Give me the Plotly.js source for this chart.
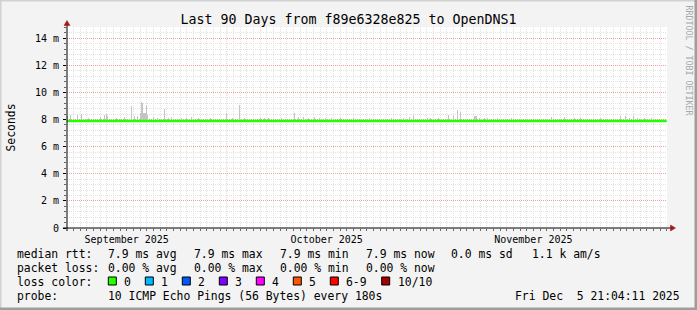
<!DOCTYPE html>
<html><head><meta charset="utf-8">
<script src="https://cdn.plot.ly/plotly-3.0.1.min.js"></script>
<style>html,body{margin:0;padding:0;background:#f3f3f3}</style>
</head><body><div id="chart" style="width:697px;height:310px"></div>
<script>
// ---------------- data ----------------
const rangeStart = '2025-09-07 01:00';
const rangeEnd = '2025-12-06 01:00';
const medianDates = ['2025-09-07 01:00', '2025-12-06 00:00'];
const medianRtt = [7.9, 7.9]; // ms
const smokeDates = [
 '2025-09-07 01:00','2025-09-07 15:00','2025-09-08 16:20','2025-09-09 06:40','2025-09-10 07:50',
 '2025-09-12 03:00','2025-09-12 17:30','2025-09-12 22:50','2025-09-13 04:20','2025-09-14 12:40',
 '2025-09-15 17:30','2025-09-16 18:40','2025-09-17 05:30','2025-09-17 16:20','2025-09-18 03:00',
 '2025-09-18 06:40','2025-09-18 10:20','2025-09-18 13:50','2025-09-18 17:30','2025-09-18 21:00',
 '2025-09-19 00:40','2025-09-19 04:20','2025-09-20 02:00','2025-09-20 16:20','2025-09-21 17:30',
 '2025-09-22 07:50','2025-09-22 18:40','2025-09-24 06:40','2025-09-25 00:40','2025-09-25 18:40',
 '2025-09-26 20:00','2025-09-28 15:00','2025-10-01 00:40','2025-10-01 22:20','2025-10-02 23:30',
 '2025-10-03 17:30','2025-10-06 03:00','2025-10-06 17:30','2025-10-07 07:50','2025-10-09 06:40',
 '2025-10-11 05:30','2025-10-11 20:00','2025-10-12 13:50','2025-10-13 07:50','2025-10-14 05:30',
 '2025-10-14 23:30','2025-10-15 21:00','2025-10-16 18:40','2025-10-18 03:00','2025-10-20 02:00',
 '2025-10-22 11:30','2025-10-25 18:40','2025-10-27 13:50','2025-10-28 11:30','2025-10-29 01:50',
 '2025-10-31 04:20','2025-10-31 15:00','2025-11-01 19:50','2025-11-03 07:50','2025-11-04 01:50',
 '2025-11-04 16:20','2025-11-05 03:00','2025-11-07 05:30','2025-11-07 09:00','2025-11-07 12:40',
 '2025-11-07 23:30','2025-11-08 17:30','2025-11-09 04:20','2025-11-10 16:20','2025-11-12 18:40',
 '2025-11-18 18:40','2025-11-20 17:30','2025-11-22 05:30','2025-11-23 03:00','2025-11-26 03:00',
 '2025-11-29 03:00','2025-11-29 21:00','2025-11-30 11:30','2025-12-01 01:50','2025-12-01 16:20',
 '2025-12-02 17:30','2025-12-03 18:40'
];
const smokeTop = [
 8.28,8.33,8.33,8.38,8.15,
 8.20,8.35,8.40,8.30,8.15,
 8.20,9.00,8.30,8.25,8.45,
 9.30,9.20,8.50,8.50,8.45,
 9.05,8.35,8.20,8.15,8.80,
 8.15,8.20,8.15,8.10,8.20,
 8.10,8.15,8.45,8.15,9.10,
 8.15,8.15,8.12,8.15,8.12,
 8.45,8.18,8.18,8.15,8.20,
 8.15,8.15,8.12,8.12,8.15,
 8.12,8.10,8.15,8.20,8.25,
 8.15,8.15,8.12,8.35,8.30,
 8.70,8.55,8.25,8.30,8.25,
 8.15,8.15,8.15,8.10,8.10,
 8.20,8.20,8.10,8.15,8.10,
 8.25,8.25,8.15,8.25,8.15,
 8.15,8.12
];
const monthStarts = ['2025-10-01','2025-11-01','2025-12-01'];
const monthLabelDates = ['2025-09-16','2025-10-16','2025-11-16'];
const monthLabels = ['September 2025','October 2025','November 2025'];
const yTickVals = [0,2,4,6,8,10,12,14];
const yTickText = ['0','2 m','4 m','6 m','8 m','10 m','12 m','14 m'];
const statsRtt = ['7.9 ms avg','7.9 ms max','7.9 ms min','7.9 ms now','0.0 ms sd','1.1 k am/s'];
const statsLoss = ['0.00 % avg','0.00 % max','0.00 % min','0.00 % now'];
const lossLabels = ['0','1','2','3','4','5','6-9','10/10'];
const lossColors = ['#26ff00','#00b8ff','#0059ff','#7e00ff','#ff00ff','#ff5500','#ff0000','#a00000'];
const probeText = '10 ICMP Echo Pings (56 Bytes) every 180s';
const stampText = 'Fri Dec\u00a0\u00a05 21:04:11 2025';

// ---------------- layout helpers ----------------
const MONO = 'DejaVu Sans Mono, monospace';
const L = 67, T = 27, W = 600, H = 201;
const px = x => (x - L) / W;
const py = y => (T + H - y) / H;
const SMOKE_BASE = 7.8;
const STEP_MS = 3.6 * 3600 * 1000;

function txt(x, y, s, extra) {
  return Object.assign({xref:'paper', yref:'paper', x:px(x), y:py(y), xanchor:'left', yanchor:'middle',
    text:s, showarrow:false, borderpad:0, font:{family:MONO, size:11.4, color:'#000'}}, extra || {});
}

const traces = [
  {type:'bar', x:smokeDates, y:smokeTop.map(v => v - SMOKE_BASE), base:SMOKE_BASE,
   width:STEP_MS, marker:{color:'#c4c4c4', line:{width:0}}, hoverinfo:'skip'},
  {type:'scatter', mode:'lines', x:medianDates, y:medianRtt,
   line:{color:'#22ff00', width:2.6}, hoverinfo:'skip'}
];

const annotations = [];
annotations.push(txt(10, 127.5, 'Seconds', {xanchor:'center', textangle:-90}));
annotations.push(txt(688.5, 60, 'RRDTOOL / TOBI OETIKER', {xanchor:'center', textangle:90,
  font:{family:MONO, size:8.3, color:'#a8a8a8'}}));
annotations.push(txt(16, 254, 'median rtt:'));
[107.3,193.3,279.3,365,450,530.7].forEach((x,i) => annotations.push(txt(x, 254, statsRtt[i])));
annotations.push(txt(16, 268, 'packet loss:'));
[107.3,193.3,279.3,365].forEach((x,i) => annotations.push(txt(x, 268, statsLoss[i])));
annotations.push(txt(16, 282, 'loss color:'));
const boxX = [108.3,145.3,182.3,219.3,256.3,293.3,330.3,381.7];
const shapes = [];
boxX.forEach((x,i) => {
  shapes.push({type:'rect', xref:'paper', yref:'paper', x0:px(x), x1:px(x+8), y0:py(285), y1:py(277),
    fillcolor:lossColors[i], line:{color:'#000', width:1}});
  annotations.push(txt(x + 15, 282, lossLabels[i]));
});
annotations.push(txt(16, 296, 'probe:'));
annotations.push(txt(107.3, 296, probeText));
annotations.push(txt(681, 296, stampText, {xanchor:'right'}));

// month boundary major grid lines (through the x scale)
monthStarts.forEach(d => shapes.push({type:'line', xref:'x', yref:'paper', x0:d, x1:d, y0:0, y1:1,
  layer:'below', line:{color:'#f2a0a0', width:1, dash:'1px,1px'}}));
// axes with arrows
shapes.push({type:'line', xref:'paper', yref:'paper', x0:px(67), x1:px(67), y0:py(231), y1:py(24), line:{color:'#000', width:1}});
shapes.push({type:'line', xref:'paper', yref:'paper', x0:px(63), x1:px(671), y0:py(228), y1:py(228), line:{color:'#000', width:1}});
shapes.push({type:'path', xref:'paper', yref:'paper', fillcolor:'#a01818', line:{color:'#a01818', width:0.5},
  path:`M ${px(67)} ${py(20.5)} L ${px(70)} ${py(25.5)} L ${px(64)} ${py(25.5)} Z`});
shapes.push({type:'path', xref:'paper', yref:'paper', fillcolor:'#a01818', line:{color:'#a01818', width:0.5},
  path:`M ${px(675.5)} ${py(228)} L ${px(670.5)} ${py(225)} L ${px(670.5)} ${py(231)} Z`});
// frame
shapes.push({type:'rect', xref:'paper', yref:'paper', x0:px(0), x1:px(697), y0:py(0), y1:py(1.5), fillcolor:'#d2d2d2', line:{width:0}});
shapes.push({type:'rect', xref:'paper', yref:'paper', x0:px(0), x1:px(1.5), y0:py(0), y1:py(310), fillcolor:'#d2d2d2', line:{width:0}});
shapes.push({type:'rect', xref:'paper', yref:'paper', x0:px(0), x1:px(697), y0:py(307.5), y1:py(310), fillcolor:'#9e9e9e', line:{width:0}});
shapes.push({type:'rect', xref:'paper', yref:'paper', x0:px(694.5), x1:px(697), y0:py(0), y1:py(310), fillcolor:'#9e9e9e', line:{width:0}});

const layout = {
  width:697, height:310,
  margin:{l:L, r:697-L-W, t:T, b:310-T-H, pad:0},
  paper_bgcolor:'#f3f3f3', plot_bgcolor:'#ffffff',
  showlegend:false, bargap:0,
  title:{text:'Last 90 Days from f89e6328e825 to OpenDNS1', font:{family:MONO, size:13.3, color:'#000'},
    x:0.5, xref:'container', xanchor:'center', y:1 - 19/310, yref:'container', yanchor:'middle'},
  xaxis:{type:'date', range:[rangeStart, rangeEnd], tickmode:'array', tickvals:monthLabelDates, ticktext:monthLabels,
    showgrid:false, zeroline:false, showline:false, ticks:'outside', ticklen:2, tickcolor:'rgba(0,0,0,0)',
    ticklabelstandoff:0,
    tickfont:{family:MONO, size:10, color:'#000'},
    minor:{tickmode:'linear', tick0:'2025-09-01', dtick:86400000, showgrid:true, gridcolor:'#e2e2e2',
      griddash:'1px,1px', gridwidth:1, ticks:'outside', ticklen:2, tickcolor:'#666'}},
  yaxis:{range:[0, 14.83], tickmode:'array', tickvals:yTickVals, ticktext:yTickText,
    showgrid:true, gridcolor:'#f2a0a0', griddash:'1px,1px', gridwidth:1, zeroline:false, showline:false,
    ticks:'outside', ticklen:3, tickcolor:'#000', ticklabelstandoff:2,
    tickfont:{family:MONO, size:10, color:'#000'},
    minor:{tickmode:'linear', tick0:0, dtick:0.4, showgrid:true, gridcolor:'#e2e2e2', griddash:'1px,1px',
      gridwidth:1, ticks:'outside', ticklen:2, tickcolor:'#666'}},
  annotations:annotations, shapes:shapes
};
Plotly.newPlot('chart', traces, layout, {staticPlot:true, displayModeBar:false});
</script></body></html>
